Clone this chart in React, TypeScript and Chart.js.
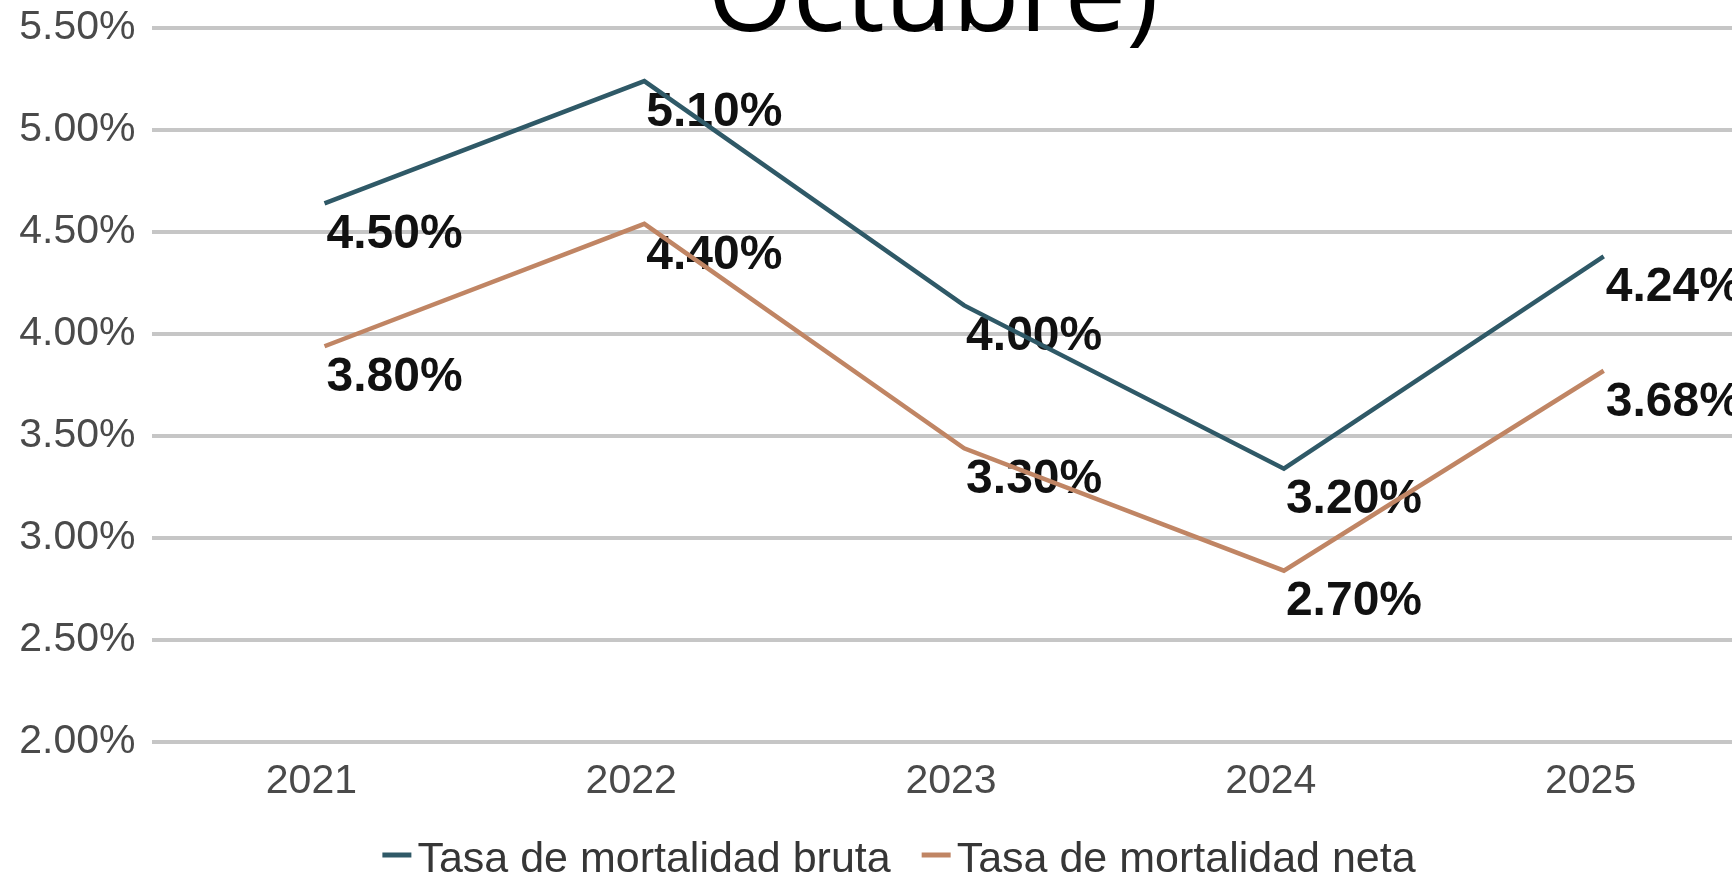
import React, { useEffect, useRef } from "react";
import { Chart, registerables } from "chart.js";

Chart.register(...registerables);

// ---- data ----
const categories = ["2021", "2022", "2023", "2024", "2025"];
const brutaValues = [4.5, 5.1, 4.0, 3.2, 4.24];
const netaValues = [3.8, 4.4, 3.3, 2.7, 3.68];
const seriesNames = ["Tasa de mortalidad bruta", "Tasa de mortalidad neta"];
const seriesColors = ["#2f5967", "#c08564"];
const yMin = 2.0;
const yMax = 5.5;
const yStep = 0.5;
const titleText = "Octubre)";

// the reference draws its lines slightly offset from its own axes
const lineShiftY = 0.14; // in value units
const lineShiftX = 0.041; // in category units

const CANVAS_W = 1760;
const CANVAS_H = 877;
const FONT = '"Liberation Sans", Arial, Helvetica, sans-serif';

const customPlugin = {
  id: "customDecor",
  beforeDatasetsDraw(chart: any) {
    const ctx = chart.ctx;
    const yScale = chart.scales.y;
    ctx.save();
    ctx.font = `bold 48px ${FONT}`;
    ctx.fillStyle = "#111111";
    ctx.textAlign = "left";
    ctx.textBaseline = "middle";
    chart.data.datasets.forEach((ds: any, di: number) => {
      const meta = chart.getDatasetMeta(di);
      meta.data.forEach((el: any, i: number) => {
        const v = ds.data[i].y;
        const y = yScale.getPixelForValue(v);
        ctx.fillText(v.toFixed(2) + "%", el.x + 2, y + 3);
      });
    });
    ctx.restore();
  },
  afterDraw(chart: any) {
    const ctx = chart.ctx;
    ctx.save();
    // title (only its lower part is visible in the reference)
    ctx.font = `110px "Open Sans", "Noto Sans", sans-serif`;
    ctx.fillStyle = "#000000";
    ctx.textAlign = "center";
    ctx.textBaseline = "alphabetic";
    ctx.fillText(titleText, 933, 31);

    // legend
    ctx.font = `43px ${FONT}`;
    ctx.textAlign = "left";
    const markerW = 29;
    const gap = 6;
    const itemGap = 31;
    const items = chart.data.datasets.map((ds: any) => ({
      text: ds.label,
      color: ds.borderColor,
      w: ctx.measureText(ds.label).width,
    }));
    const total =
      items.reduce((s: number, it: any) => s + markerW + gap + it.w, 0) +
      itemGap * (items.length - 1);
    let x = 899 - total / 2;
    const baseY = 872;
    items.forEach((it: any) => {
      ctx.strokeStyle = it.color;
      ctx.lineWidth = 5;
      ctx.lineCap = "butt";
      ctx.beginPath();
      ctx.moveTo(x, 855);
      ctx.lineTo(x + markerW, 855);
      ctx.stroke();
      ctx.fillStyle = "#363636";
      ctx.fillText(it.text, x + markerW + gap, baseY);
      x += markerW + gap + it.w + itemGap;
    });
    ctx.restore();
  },
};

export default function App() {
  const canvasRef = useRef<HTMLCanvasElement | null>(null);

  useEffect(() => {
    if (!canvasRef.current) return;
    const toPoints = (arr: number[]) => arr.map((v, i) => ({ x: i, y: v }));
    const chart = new Chart(canvasRef.current, {
      type: "line",
      data: {
        labels: categories,
        datasets: [
          {
            label: seriesNames[0],
            data: toPoints(brutaValues),
            borderColor: seriesColors[0],
            backgroundColor: seriesColors[0],
            borderWidth: 4.5,
            pointRadius: 0,
            tension: 0,
            xAxisID: "x2",
            yAxisID: "y2",
          },
          {
            label: seriesNames[1],
            data: toPoints(netaValues),
            borderColor: seriesColors[1],
            backgroundColor: seriesColors[1],
            borderWidth: 4.5,
            pointRadius: 0,
            tension: 0,
            xAxisID: "x2",
            yAxisID: "y2",
          },
        ],
      },
      options: {
        responsive: false,
        animation: false,
        devicePixelRatio: 1,
        layout: { padding: { top: 28, bottom: 73, left: 0, right: CANVAS_W - 1750.5 } },
        plugins: {
          legend: { display: false },
          title: { display: false },
          tooltip: { enabled: false },
        },
        scales: {
          x: {
            type: "category",
            offset: true,
            grid: { display: false, drawTicks: false },
            border: { display: false },
            ticks: {
              color: "#4a4a4a",
              font: { family: FONT, size: 41 },
              padding: 15,
              maxRotation: 0,
              autoSkip: false,
            },
            afterFit: (s: any) => {
              s.height = 62;
              s.paddingLeft = 0;
              s.paddingRight = 0;
            },
          },
          y: {
            type: "linear",
            min: yMin,
            max: yMax,
            grid: { color: "#c6c6c6", lineWidth: 4, drawTicks: false },
            border: { display: false },
            ticks: {
              stepSize: yStep,
              color: "#4a4a4a",
              font: { family: FONT, size: 41 },
              padding: 16,
              callback: (v: any) => Number(v).toFixed(2) + "%",
            },
            afterFit: (s: any) => {
              s.width = 151.5;
              s.paddingTop = 0;
              s.paddingBottom = 0;
            },
          },
          x2: {
            type: "linear",
            display: false,
            min: -0.5 - lineShiftX,
            max: categories.length - 0.5 - lineShiftX,
          },
          y2: {
            type: "linear",
            display: false,
            min: yMin - lineShiftY,
            max: yMax - lineShiftY,
          },
        },
      },
      plugins: [customPlugin],
    } as any);
    return () => chart.destroy();
  }, []);

  return (
    <div
      style={{
        position: "fixed",
        left: 0,
        top: 0,
        width: 1732,
        height: 877,
        overflow: "hidden",
        background: "#ffffff",
      }}
    >
      <canvas
        ref={canvasRef}
        width={CANVAS_W}
        height={CANVAS_H}
        style={{ width: CANVAS_W, height: CANVAS_H, display: "block" }}
      />
    </div>
  );
}
